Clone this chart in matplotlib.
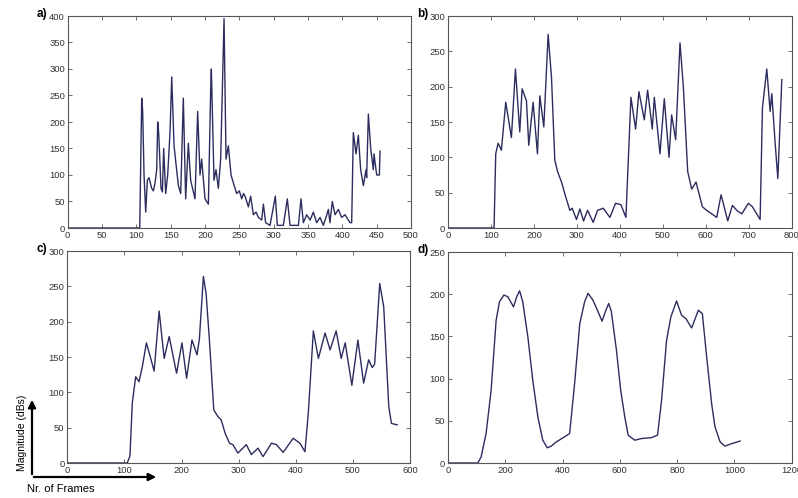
import matplotlib.pyplot as plt
from matplotlib.patches import FancyArrowPatch
from matplotlib.ticker import MultipleLocator

plt.rcParams['font.family'] = ['Liberation Sans', 'DejaVu Sans']

# panel a) - raw magnitude, frames 0..500
a_x = [0, 104.9, 107.8, 109.2, 111.2, 113.6, 116, 118.4, 122.3, 124.8, 127.2, 129.6, 131.1,
       132.5, 135.9, 137.9, 139.8, 142.7, 145.6, 149, 151.5, 154.9, 157.8, 161.2, 164.6,
       168.4, 171.8, 175.7, 179.1, 185.4, 189.3, 192.7, 195.1, 200, 204.9, 208.3, 209.2,
       213.1, 216, 219.4, 222.8, 227.7, 230.6, 234, 237.9, 241.3, 246.1, 250, 253.4, 256,
       258.3, 263.1, 266.5, 270.4, 274.3, 277.7, 282.5, 285, 288.3, 294.7, 302.4, 305.3,
       314.1, 319.9, 323.8, 336, 339.8, 343.2, 348.1, 353, 357.8, 362.6, 367.5, 372.3,
       376.2, 379.6, 382, 385.4, 389.3, 394.2, 399, 403.9, 411.2, 413.6, 416, 419.9, 423.3,
       426.7, 430.6, 434.5, 435.4, 437.9, 441.3, 445.1, 446.1, 450, 453.9, 454.9]
a_y = [0, 0, 245, 220, 100, 30, 90, 95, 75, 70, 85, 110, 200,
       180, 75, 68, 150, 65, 100, 180, 285, 155, 120, 80, 65,
       245, 55, 160, 90, 55, 220, 100, 130, 55, 45, 265, 300,
       90, 110, 75, 130, 395, 130, 155, 100, 85, 65, 70, 55, 65,
       60, 40, 60, 25, 30, 20, 15, 45, 10, 5, 60, 5,
       5, 55, 5, 5, 55, 10, 25, 15, 30, 10, 20, 5,
       20, 35, 10, 50, 25, 35, 20, 25, 10, 10, 180, 140, 175,
       110, 80, 110, 95, 215, 150, 110, 140, 100, 100, 145]

# panel b) - frames 0..800
b_x = [0, 107.2, 111.1, 116.6, 124.3, 134.4, 147.6, 157, 167, 172.5, 182.6, 188, 198.1,
       208.2, 213.7, 223, 233.1, 240.9, 248.6, 254.9, 264.2, 273.5, 283.6, 289, 299.1,
       306.9, 315.5, 324.8, 338, 348.1, 361.3, 376.8, 390, 402.5, 414.1, 425.8, 436.7,
       444.4, 456.9, 464.6, 475.5, 480.2, 493.4, 503.5, 514.4, 520.6, 529.9, 540, 547.8,
       557.9, 567.2, 577.3, 592.1, 602.2, 625.5, 635.6, 651.1, 662, 672.1, 683.8, 699.3,
       708.6, 726.5, 731.9, 742, 749.8, 753.7, 761.5, 767.7, 777]
b_y = [0, 0, 105, 120, 110, 178, 128, 225, 136, 197, 180, 117, 178,
       105, 187, 143, 274, 213, 96, 80, 65, 45, 25, 28, 12,
       27, 10, 25, 8, 25, 28, 15, 35, 33, 15, 185, 140,
       193, 153, 195, 140, 185, 105, 183, 100, 160, 125, 262, 200,
       80, 55, 65, 30, 25, 15, 47, 10, 32, 25, 20, 35,
       30, 12, 170, 225, 165, 190, 120, 70, 210]

# panel c) - frames 0..600
c_x = [0, 105, 109.7, 113.8, 119.7, 125.6, 131.5, 138.5, 146.1, 152, 160.8, 169.6, 178.4,
       191.3, 200.7, 208.9, 218.3, 227.1, 231.2, 238.3, 243, 248.8, 256.5, 263.5, 269.4,
       276.4, 284, 289.9, 298.7, 313.4, 322.2, 333.9, 342.7, 357.4, 366.2, 377.9, 395.5,
       407.3, 416.1, 421.9, 430.8, 439.6, 451.3, 460.1, 470.7, 479.5, 486.5, 498.2, 508.8,
       518.8, 527.6, 534, 538.1, 547, 554, 562.8, 567.5, 577.5]
c_y = [0, 0, 10, 85, 122, 115, 137, 170, 148, 130, 215, 148, 179,
       127, 170, 120, 174, 153, 175, 264, 240, 174, 75, 66, 61,
       42, 28, 26, 14, 26, 12, 21, 9, 28, 26, 15, 35,
       28, 16, 70, 187, 148, 184, 160, 187, 148, 170, 110, 174,
       113, 146, 135, 140, 254, 221, 80, 56, 54]

# panel d) - frames 0..1200
d_x = [0, 104, 115.5, 133, 150.5, 168, 179.7, 195, 209, 228.7, 240, 250, 261, 279, 296,
       314, 331, 346.5, 360.5, 378, 407, 424.7, 442, 460, 477, 489, 506, 523, 538, 550,
       561, 570, 588, 603, 617, 629, 652, 675.6, 710, 731.6, 745.6, 763, 778, 798, 815.6,
       830.8, 850.6, 874, 888, 903, 920.6, 932, 950, 967, 990.6, 1020]
d_y = [0, 0, 7, 35, 86, 169, 191, 199, 197, 185, 197, 204, 191, 149, 98,
       54, 27, 18, 20, 25, 31, 35, 94, 165, 191, 201, 193, 180, 168, 180,
       189, 180, 134, 86, 55, 33, 27, 29, 30, 33, 74, 145, 173, 192, 175,
       171, 160, 181, 177, 126, 70, 43, 25, 20, 23, 26]

W, H = 798, 498
# (left, top, right, bottom) in pixels, xmax, ymax, xstep, label
panels = [
    (a_x, a_y, (67.7, 16, 411, 228), 500, 400, 50, 'a)'),
    (b_x, b_y, (448, 16, 791.7, 228), 800, 300, 100, 'b)'),
    (c_x, c_y, (67.3, 251, 410, 463), 600, 300, 100, 'c)'),
    (d_x, d_y, (448, 252, 791.7, 463), 1200, 250, 200, 'd)'),
]

fig = plt.figure(figsize=(W / 100, H / 100), dpi=100)
line_col = '#2c2d5e'

for xs, ys, (l, t, r, b), xmax, ymax, xstep, lab in panels:
    ax = fig.add_axes([l / W, 1 - b / H, (r - l) / W, (b - t) / H])
    ax.plot(xs, ys, color=line_col, lw=1.0)
    ax.set_xlim(0, xmax)
    ax.set_ylim(0, ymax)
    ax.xaxis.set_major_locator(MultipleLocator(xstep))
    ax.yaxis.set_major_locator(MultipleLocator(50))
    ax.tick_params(direction='in', length=3, width=0.6, top=True, right=True,
                   labelsize=6.8, labelcolor='#333333', color='#555555', pad=2)
    for s in ax.spines.values():
        s.set_color('#555555')
        s.set_linewidth(0.8)
    fig.text((l - 31) / W, 1 - (t - 2) / H, lab, fontsize=8.5, fontweight='bold',
             ha='left', va='center')

# axis arrows in the lower left corner
fig.patches.append(FancyArrowPatch(
    (32 / W, 1 - 477 / H), (32 / W, 1 - 397 / H), transform=fig.transFigure,
    arrowstyle='-|>', mutation_scale=11, lw=1.6, color='black'))
fig.patches.append(FancyArrowPatch(
    (31 / W, 1 - 477 / H), (159 / W, 1 - 477 / H), transform=fig.transFigure,
    arrowstyle='-|>', mutation_scale=11, lw=1.6, color='black'))
fig.text(22 / W, 1 - 433 / H, 'Magnitude (dBs)', rotation=90, fontsize=7.5,
         ha='center', va='center')
fig.text(27 / W, 1 - 489 / H, 'Nr. of Frames', fontsize=8, ha='left', va='center')

fig.savefig('out.png', dpi=100)
